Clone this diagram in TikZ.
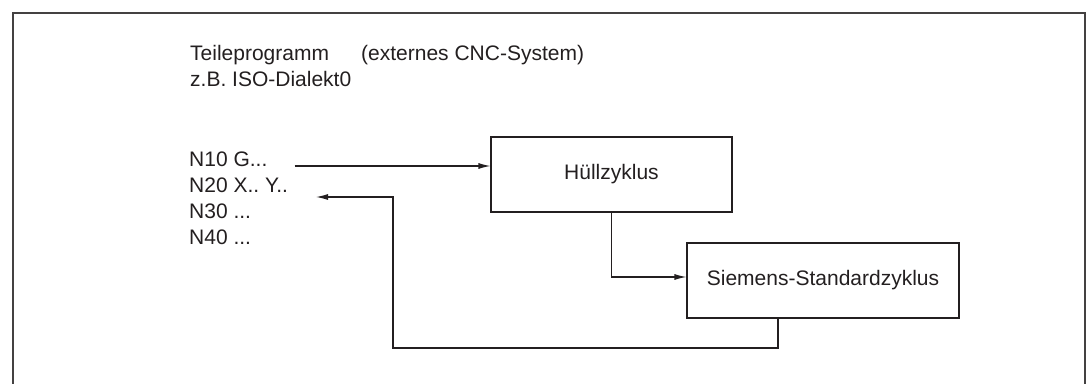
\documentclass[tikz,border=0pt]{standalone}
\usepackage{fontspec}
\setmainfont{Liberation Sans}
\usetikzlibrary{arrows.meta}
\definecolor{ink}{RGB}{35,31,32}
\frenchspacing
\begin{document}
\begin{tikzpicture}[x=1pt,y=-1pt,
  every node/.style={font=\fontsize{21}{26}\selectfont\frenchspacing, text=ink, inner sep=0pt},
  txt/.style={anchor=base west},
  cyclebox/.style={draw=ink, line width=1.1pt, minimum height=75pt},
  conn/.style={draw=ink, line width=1.1pt, -{Latex[length=12pt,width=6pt]}},
  frame/.style={draw=ink!85, line width=1.6pt}]
\useasboundingbox (0,0) rectangle (1087,383);
% outer frame (open at the bottom)
\draw[frame] (13,390) -- (13,13) -- (1085,13) -- (1085,390);
% titles
\node[txt] (title) at (190,60) {Teileprogramm};
\node[txt] (ext) at (361,60) {(externes CNC-System)};
\node[txt] (iso) at (190,86) {z.B. ISO-Dialekt0};
% program lines
\node[txt] (n10) at (189,166) {N10 G...};
\node[txt] (n20) at (189,192) {N20 X.. Y..};
\node[txt] (n30) at (189,218) {N30 ...};
\node[txt] (n40) at (189,244) {N40 ...};
% boxes
\node[cyclebox, minimum width=241pt] (h) at (611.5,174.5) {Hüllzyklus};
\node[cyclebox, minimum width=272pt] (s) at (823,280.5) {Siemens-Standardzyklus};
% connectors
\coordinate (ret) at (316,197);
\draw[conn, shorten <=27pt] (n10.base east) -- (n10.base east -| h.west);
\draw[conn] (h.south) |- ([yshift=3.5pt]s.west);
\draw[conn] ([xshift=-45pt]s.south) |- (393,348) |- (ret);
\end{tikzpicture}
\end{document}
